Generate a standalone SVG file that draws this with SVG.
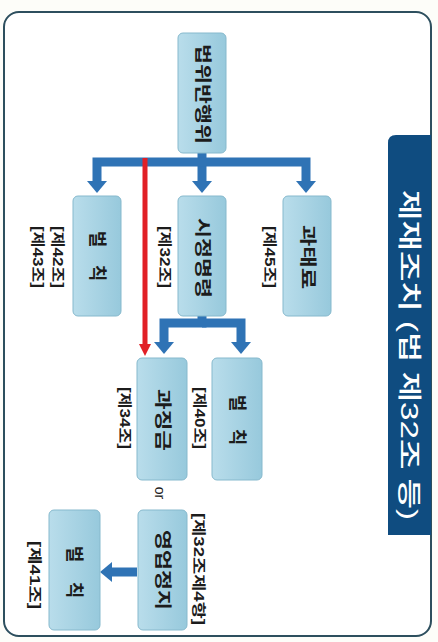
<svg xmlns="http://www.w3.org/2000/svg" width="438" height="642" viewBox="0 0 438 642">
<style>
.node rect{fill:url(#ng);stroke:#86b9cd;stroke-width:1}
.t{font-family:"Liberation Sans","Noto Sans CJK KR",sans-serif;font-weight:bold;fill:#1c1c1c;text-anchor:middle;dominant-baseline:central}
.nt{font-size:17px}
.bc{font-size:18px}
.lb{font-size:14px}
.blue{fill:none;stroke:#2f73b5;stroke-width:9;stroke-linejoin:miter}
.red{fill:none;stroke:#e11f26;stroke-width:5}
</style>
<defs>
<linearGradient id="ng" x1="0" y1="0" x2="1" y2="0">
<stop offset="0" stop-color="#b9ddeb"/>
<stop offset="1" stop-color="#97c9dc"/>
</linearGradient>
<marker id="bh" markerUnits="userSpaceOnUse" markerWidth="12" markerHeight="20" viewBox="0 0 12 20" refX="0" refY="10" orient="auto">
<path d="M0,0 L12,10 L0,20 z" fill="#2f73b5"/>
</marker>
<marker id="rh" markerUnits="userSpaceOnUse" markerWidth="12" markerHeight="12" viewBox="0 0 12 12" refX="0" refY="6" orient="auto">
<path d="M0,0 L12,6 L0,12 z" fill="#e11f26"/>
</marker>
</defs>
<rect x="0" y="0" width="438" height="642" fill="#fdfdf9"/>
<rect x="4" y="12" width="427" height="624" rx="15" fill="#ffffff" stroke="#2d4f5e" stroke-width="2"/>
<g id="title">
<path d="M388,143 Q388,135 396,135 H431 V535 H388 Z" fill="#0f4c80"/>
<text class="t" transform="translate(409,355) rotate(90)" font-size="24" style="fill:#ffffff;font-weight:500" textLength="330" lengthAdjust="spacingAndGlyphs">제재조치 (법 제32조 등)</text>
</g>
<g id="connectors">
<path class="blue" d="M202,150 V181" marker-end="url(#bh)"/>
<path class="blue" d="M202,162 H97 V181" marker-end="url(#bh)"/>
<path class="blue" d="M202,162 H306 V181" marker-end="url(#bh)"/>
<path class="red" d="M145,158 V344" marker-end="url(#rh)"/>
<path class="blue" d="M202,314 V323 H164 V342" marker-end="url(#bh)"/>
<path class="blue" d="M202,323 H241 V342" marker-end="url(#bh)"/>
<path class="blue" d="M137,572 H112" marker-end="url(#bh)"/>
</g>
<g id="n-root" class="node">
<rect x="178" y="33" width="48" height="120" rx="5"/>
<text class="t nt" transform="translate(202,94) rotate(90)" textLength="100" lengthAdjust="spacingAndGlyphs">법위반행위</text>
</g>
<g id="n-penalty1" class="node">
<rect x="73" y="196" width="48" height="120" rx="5"/>
<text class="t bc" transform="translate(97,256) rotate(90)"><tspan x="-17">벌</tspan><tspan x="17">칙</tspan></text>
<text class="t lb" transform="translate(58,257) rotate(90)" textLength="62" lengthAdjust="spacingAndGlyphs">[제42조]</text>
<text class="t lb" transform="translate(38,257) rotate(90)" textLength="62" lengthAdjust="spacingAndGlyphs">[제43조]</text>
</g>
<g id="n-order" class="node">
<rect x="178" y="196" width="48" height="120" rx="5"/>
<text class="t nt" transform="translate(202,258) rotate(90)" textLength="80" lengthAdjust="spacingAndGlyphs">시정명령</text>
<text class="t lb" transform="translate(165,257) rotate(90)" textLength="62" lengthAdjust="spacingAndGlyphs">[제32조]</text>
</g>
<g id="n-fine" class="node">
<rect x="283" y="196" width="48" height="120" rx="5"/>
<text class="t nt" transform="translate(307,257) rotate(90)" textLength="64" lengthAdjust="spacingAndGlyphs">과태료</text>
<text class="t lb" transform="translate(270,257) rotate(90)" textLength="62" lengthAdjust="spacingAndGlyphs">[제45조]</text>
</g>
<g id="n-surcharge" class="node">
<rect x="137" y="358" width="50" height="122" rx="5"/>
<text class="t nt" transform="translate(162,420) rotate(90)" textLength="62" lengthAdjust="spacingAndGlyphs">과징금</text>
<text class="t lb" transform="translate(125,418) rotate(90)" textLength="62" lengthAdjust="spacingAndGlyphs">[제34조]</text>
</g>
<g id="n-penalty2" class="node">
<rect x="212" y="358" width="50" height="122" rx="5"/>
<text class="t bc" transform="translate(237,420) rotate(90)"><tspan x="-17">벌</tspan><tspan x="17">칙</tspan></text>
<text class="t lb" transform="translate(200,418) rotate(90)" textLength="62" lengthAdjust="spacingAndGlyphs">[제40조]</text>
</g>
<g id="or-label">
<text class="t" transform="translate(160,493) rotate(90)" font-size="14" style="font-weight:normal">or</text>
</g>
<g id="n-suspend" class="node">
<rect x="138" y="510" width="49" height="120" rx="5"/>
<text class="t nt" transform="translate(162,570) rotate(90)" textLength="80" lengthAdjust="spacingAndGlyphs">영업정지</text>
<text class="t lb" transform="translate(199,569) rotate(90)" textLength="112" lengthAdjust="spacingAndGlyphs">[제32조제4항]</text>
</g>
<g id="n-penalty3" class="node">
<rect x="49" y="510" width="51" height="120" rx="5"/>
<text class="t bc" transform="translate(74,572) rotate(90)"><tspan x="-18">벌</tspan><tspan x="18">칙</tspan></text>
<text class="t lb" transform="translate(35,575) rotate(90)" textLength="68" lengthAdjust="spacingAndGlyphs">[제41조]</text>
</g>
</svg>
